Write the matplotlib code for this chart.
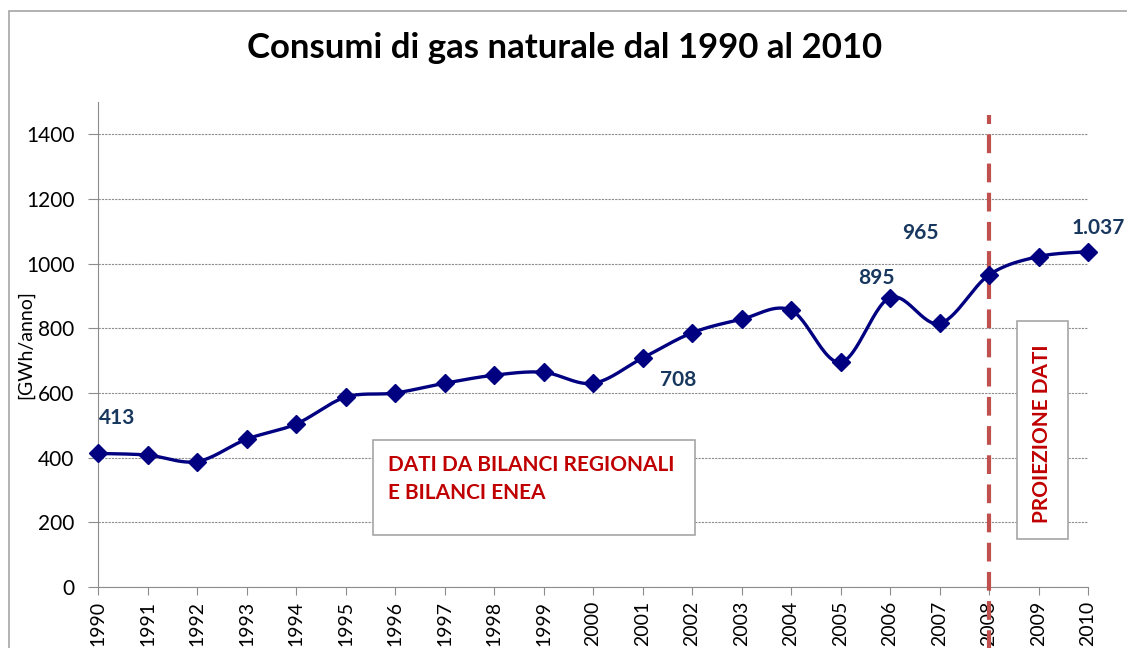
import matplotlib
matplotlib.use("Agg")
import matplotlib.pyplot as plt
from matplotlib.patches import Rectangle
import numpy as np

years = list(range(1990, 2011))
values = [413, 408, 388, 457, 504, 587, 600, 630, 655, 664, 630,
          708, 786, 828, 856, 695, 895, 815, 965, 1022, 1037]
yticks = [0, 200, 400, 600, 800, 1000, 1200, 1400]
label_years = [1990, 2001, 2006, 2008, 2010]
label_texts = ["413", "708", "895", "965", "1.037"]

W, H = 1127, 648
FONT = ["Lato", "DejaVu Sans"]
plt.rcParams['font.family'] = FONT

fig = plt.figure(figsize=(W / 100, H / 100), dpi=100)

def fx(px):
    return px / W

def fy(py):
    return 1 - py / H

# outer frame
fig.patches.append(Rectangle((fx(9), fy(700)), fx(1200) - fx(9), fy(11) - fy(700),
                             transform=fig.transFigure, fill=False,
                             edgecolor="#a6a6a6", linewidth=1.2))

ax = fig.add_axes([fx(98), fy(587), fx(1088) - fx(98), fy(102) - fy(587)])
ax.set_xlim(1990, 2010)
ax.set_ylim(0, 1500)

# smoothed line (Catmull-Rom style Bezier like Excel)
x = np.array(years, dtype=float)
y = np.array(values, dtype=float)
xs, ys = [], []
n = len(x)
for i in range(n - 1):
    p0 = np.array([x[max(i - 1, 0)], y[max(i - 1, 0)]])
    p1 = np.array([x[i], y[i]])
    p2 = np.array([x[i + 1], y[i + 1]])
    p3 = np.array([x[min(i + 2, n - 1)], y[min(i + 2, n - 1)]])
    c1 = p1 + (p2 - p0) / 6
    c2 = p2 - (p3 - p1) / 6
    t = np.linspace(0, 1, 30)[:, None]
    pts = ((1 - t) ** 3) * p1 + 3 * ((1 - t) ** 2) * t * c1 + 3 * (1 - t) * t ** 2 * c2 + t ** 3 * p2
    xs.extend(pts[:, 0])
    ys.extend(pts[:, 1])
ax.plot(xs, ys, color="#000080", linewidth=2.4, clip_on=False, zorder=4)
ax.plot(years, values, linestyle="none", marker="D", markersize=9,
        color="#000080", clip_on=False, zorder=5)

ax.set_yticks(yticks)
ax.set_xticks(years)
ax.set_xticklabels([str(v) for v in years], rotation=90, fontsize=14)
ax.tick_params(axis="y", labelsize=15, length=7, color="#8c8c8c", pad=10)
ax.tick_params(axis="x", length=6, color="#8c8c8c", pad=4)
ax.grid(axis="y", linestyle=(0, (2, 1)), color="#8c8c8c", linewidth=0.8)
for s in ["top", "right"]:
    ax.spines[s].set_visible(False)
for s in ["left", "bottom"]:
    ax.spines[s].set_color("#8c8c8c")
ax.set_axisbelow(True)

ax.set_ylabel("[GWh/anno]", fontsize=14, labelpad=2)
ax.yaxis.set_label_coords((34 - 98) / (1088 - 98), 0.50)

# data labels
label_pos = {1990: (117, 418), 2001: (678, 380), 2006: (876, 278),
             2008: (920, 233), 2010: (1098, 228)}
for yr, txt in zip(label_years, label_texts):
    px, py = label_pos[yr]
    fig.text(fx(px), fy(py), txt, ha="center", va="center", fontsize=15,
             fontweight="bold", color="#17375e")

# vertical dashed line at 2008
ax.plot([2008, 2008], [-250, 1460], color="#c0504d", linewidth=3,
        linestyle=(0, (4.5, 2.5)), clip_on=False, zorder=3)

# text boxes
fig.patches.append(Rectangle((fx(373), fy(535)), fx(695) - fx(373), fy(440) - fy(535),
                             transform=fig.transFigure, facecolor="white",
                             edgecolor="#a6a6a6", linewidth=1.2, zorder=6))
fig.text(fx(388), fy(465), "DATI DA BILANCI REGIONALI", ha="left", va="center",
         fontsize=15, fontweight="bold", color="#c00000", zorder=7)
fig.text(fx(388), fy(493), "E BILANCI ENEA", ha="left", va="center",
         fontsize=15, fontweight="bold", color="#c00000", zorder=7)

fig.patches.append(Rectangle((fx(1017), fy(539)), fx(1068) - fx(1017), fy(321) - fy(539),
                             transform=fig.transFigure, facecolor="white",
                             edgecolor="#a6a6a6", linewidth=1.2, zorder=6))
fig.text(fx(1042), fy(434), "PROIEZIONE DATI", ha="center", va="center",
         rotation=90, fontsize=15, fontweight="bold", color="#c00000", zorder=7)

fig.text(fx(565), fy(48), "Consumi di gas naturale dal 1990 al 2010", ha="center",
         va="center", fontsize=25, fontweight="bold", color="black")

fig.savefig("out.png", dpi=100)
